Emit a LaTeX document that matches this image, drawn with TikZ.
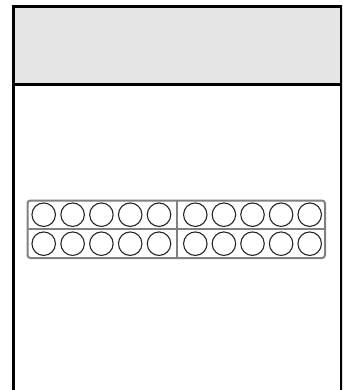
\documentclass[tikz,border=0pt]{standalone}
\begin{document}
\begin{tikzpicture}[x=1pt,y=-1pt,
  frameline/.style={line width=3pt,black},
  tenframe/.style={draw=black!50,line width=2pt,rounded corners=3pt},
  divider/.style={draw=black!50,line width=1.3pt},
  dot/.style={circle,draw=black!85,line width=1.1pt,minimum size=23.5pt,inner sep=0pt}]
\useasboundingbox (0,0) rectangle (342,390);
\begin{scope}
\clip (0,0) rectangle (342,390);
\fill[black!10] (13.5,7) rectangle (341.5,84.7);
\draw[frameline] (13.5,400) -- (13.5,7) -- (341.5,7) -- (341.5,400);
\draw[frameline] (13.5,84.7) -- (341.5,84.7);
\end{scope}
\draw[tenframe] (27.5,200.5) rectangle (325,258);
\draw[divider] (177,200.5) -- (177,258);
\draw[divider] (27.5,229) -- (325,229);
\foreach \i/\x in {1/43.7,2/72.6,3/101.4,4/130.2,5/159,6/195.3,7/223.9,8/252.5,9/281.1,10/309.7}{
  \node[dot] (t\i) at (\x,214.7) {};
  \node[dot] (b\i) at (\x,243.7) {};
}
\end{tikzpicture}
\end{document}
